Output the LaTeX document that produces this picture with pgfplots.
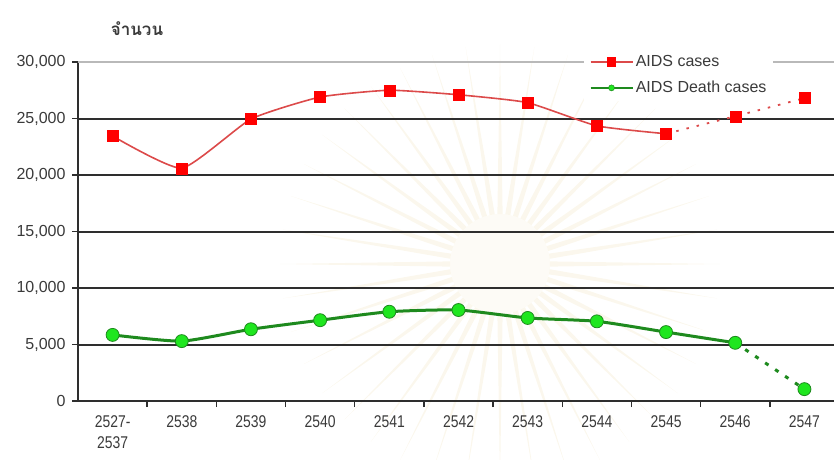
\documentclass[border=0pt]{standalone}
\usepackage{pgfplots}
\pgfplotsset{compat=1.18}
\usepackage{fontspec}
\setmainfont{Liberation Sans}
\newfontfamily\thaifont[Script=Thai]{Loma}
\newfontfamily\narrowfont[FakeStretch=0.82]{Liberation Sans}

\definecolor{txt}{HTML}{3A3A3A}
\definecolor{gridc}{HTML}{2E2E2E}
\definecolor{casemark}{HTML}{FF0000}
\definecolor{caseline}{HTML}{DC4A4A}
\definecolor{deathline}{HTML}{1E8A1E}
\definecolor{deathfill}{HTML}{1FE61F}
\definecolor{wm}{HTML}{F2E6C4}

% AIDS cases per year (Buddhist era)
\pgfplotstableread{
x cases
0 23450
1 20600
2 24950
3 26900
4 27500
5 27100
6 26400
7 24350
8 23650
9 25200
10 26800
}\casetab

% AIDS deaths per year
\pgfplotstableread{
x deaths
0 5850
1 5300
2 6350
3 7150
4 7900
5 8050
6 7350
7 7050
8 6100
9 5150
10 1050
}\deathtab

\begin{document}
\begin{tikzpicture}[x=1pt,y=1pt]
\useasboundingbox (0,0) rectangle (834,459);
\clip (0,0) rectangle (834,459);

% faint emblem in the background
\begin{scope}[shift={(500,195)}]
  \foreach \a in {0,9,...,351} {
    \fill[wm, opacity=0.3] (\a-3:50) -- (\a:220) -- (\a+3:50) -- cycle;
  }
  \fill[wm, opacity=0.15] (0,0) circle (50);
\end{scope}

\begin{axis}[
  at={(78pt,58pt)}, anchor=south west,
  scale only axis, width=761pt, height=339pt,
  xmin=-0.5, xmax=10.5, ymin=0, ymax=30000,
  axis x line*=bottom, axis y line*=left,
  axis line style={gridc, line width=2pt, -},
  tick align=outside,
  xtick={0,...,10},
  xticklabels={{2527-\\2537},2538,2539,2540,2541,2542,2543,2544,2545,2546,2547},
  xtick style={draw=none},
  extra x ticks={0.5,1.5,...,9.5},
  extra x tick labels={},
  extra x tick style={xtick style={draw=gridc, line width=1.4pt}, major tick length=6pt},
  xticklabel style={font=\narrowfont\fontsize{17}{21}\selectfont, text=txt, align=center, yshift=-5pt},
  ytick={0,5000,...,25000},
  extra y ticks={30000},
  extra y tick style={grid style={gray!55, line width=1.6pt}},
  ytick style={draw=gridc, line width=1.4pt},
  major tick length=6pt,
  ymajorgrids,
  grid style={gridc, line width=2pt},
  scaled y ticks=false,
  yticklabel style={font=\fontsize{16}{16}\selectfont, text=txt, xshift=-3pt,
    /pgf/number format/.cd, 1000 sep={,}},
  /pgf/number format/assume math mode=true,
  legend style={at={(0.665,1.04)}, anchor=north west, draw=none, fill=white,
    font=\fontsize{16}{16}\selectfont, text=txt, row sep=9pt,
    inner xsep=5pt, inner ysep=5pt},
  legend cell align=left,
  legend image code/.code={
    \draw[mark repeat=2, mark phase=2] plot coordinates {(0pt,0pt) (21pt,0pt) (42pt,0pt)};
  },
]

% AIDS cases: solid to 2545, dotted projection to 2547
\addplot[caseline, line width=1.6pt, smooth, tension=0.3, forget plot]
  table[x=x, y=cases, restrict x to domain=0:8] {\casetab};
\addplot[caseline, line width=1.8pt, smooth, tension=0.45, dash pattern=on 2.5pt off 8pt, forget plot]
  table[x=x, y=cases, restrict x to domain=8:10] {\casetab};

% AIDS deaths: solid to 2546, dotted to 2547
\addplot[deathline, line width=3pt, smooth, tension=0.35, forget plot]
  table[x=x, y=deaths, restrict x to domain=0:9] {\deathtab};
\addplot[deathline, line width=3pt, dash pattern=on 4pt off 8pt, forget plot]
  table[x=x, y=deaths, restrict x to domain=9:10] {\deathtab};

% markers
\addplot[only marks, mark=square*, mark size=5.5pt, mark options={fill=casemark, draw=casemark}, forget plot]
  table[x=x, y=cases] {\casetab};
\addplot[only marks, mark=*, mark size=6.5pt, mark options={fill=deathfill, draw=deathline, line width=0.8pt}, forget plot]
  table[x=x, y=deaths] {\deathtab};

\addlegendimage{caseline, line width=1.5pt, mark=square*, mark size=4pt, mark options={fill=casemark, draw=casemark}}
\addlegendentry{AIDS cases}
\addlegendimage{deathline, line width=2.5pt, mark=*, mark size=3pt, mark options={fill=deathfill, draw=deathline, line width=0.5pt}}
\addlegendentry{AIDS Death cases}
\end{axis}

\node[text=txt, font=\thaifont\bfseries\fontsize{17}{17}\selectfont] at (137,430) {จำนวน};
\end{tikzpicture}
\end{document}
